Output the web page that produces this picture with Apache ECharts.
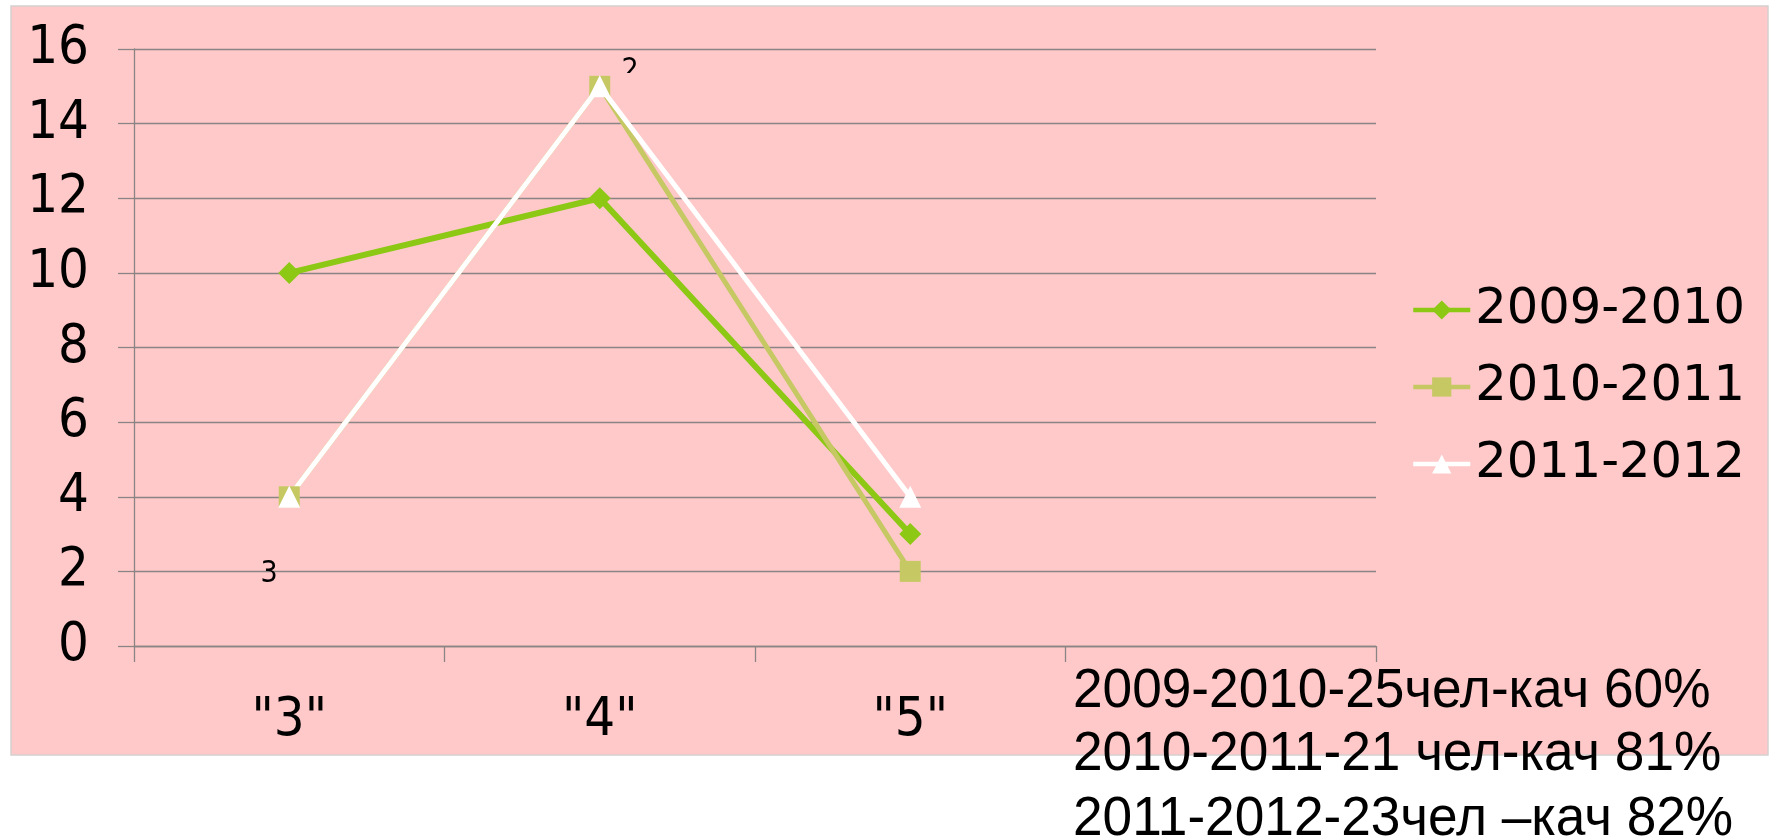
<!DOCTYPE html>
<html>
<head>
<meta charset="utf-8">
<script src="https://cdn.jsdelivr.net/npm/echarts@6/dist/echarts.min.js"></script>
<style>
html,body{margin:0;padding:0;background:#fff;}
#chart{width:1776px;height:839px;}
</style>
</head>
<body>
<div id="chart"></div>
<script>
const categories = ['"3"', '"4"', '"5"', ''];
const seriesNames = ['2009-2010', '2010-2011', '2011-2012'];
const values2009_2010 = [10, 12, 3];
const values2010_2011 = [4, 15, 2];
const values2011_2012 = [4, 15, 4];
const yTicks = { min: 0, max: 16, interval: 2 };
const noteLines = [
  '2009-2010-25чел-кач 60%',
  '2010-2011-21 чел-кач 81%',
  '2011-2012-23чел –кач 82%'
];
const strayLabels = ['3', '2'];

const PINK = '#ffc9c9';
const condensed = '"DejaVu Sans Condensed", "DejaVu Sans", sans-serif';
const noteFont = '56px "Liberation Sans", Arial, sans-serif';

const chart = echarts.init(document.getElementById('chart'), null, {renderer: 'canvas'});

const option = {
  backgroundColor: '#ffffff',
  animation: false,
  grid: { left: 134, right: 400, top: 49, bottom: 193, containLabel: false },
  xAxis: {
    type: 'category',
    data: categories,
    boundaryGap: true,
    axisLine: { show: true, lineStyle: { color: '#8a8484', width: 1.3 } },
    axisTick: { show: true, length: 16, alignWithLabel: false, lineStyle: { color: '#8a8484', width: 1.3 } },
    axisLabel: { fontFamily: condensed, fontSize: 54, color: '#000', margin: 48 },
    splitLine: { show: false }
  },
  yAxis: {
    type: 'value',
    min: yTicks.min, max: yTicks.max, interval: yTicks.interval,
    axisLine: { show: true, lineStyle: { color: '#8a8484', width: 1.3 } },
    axisTick: { show: true, length: 16, lineStyle: { color: '#8a8484', width: 1.3 } },
    axisLabel: { fontFamily: condensed, fontSize: 54, color: '#000', margin: 45 },
    splitLine: { show: true, lineStyle: { color: '#8a8484', width: 1.3 } }
  },
  legend: {
    orient: 'vertical',
    left: 1411,
    top: 285,
    padding: 0,
    itemWidth: 57,
    itemHeight: 24,
    itemGap: 27,
    lineStyle: { width: 4.5 },
    textStyle: { fontFamily: '"DejaVu Sans", sans-serif', fontSize: 49.5, color: '#000', lineHeight: 48 },
    data: seriesNames
  },
  series: [
    {
      name: seriesNames[0], type: 'line', data: values2009_2010,
      symbol: 'diamond', symbolSize: 22,
      lineStyle: { color: '#8cc814', width: 6 },
      itemStyle: { color: '#8cc814' }
    },
    {
      name: seriesNames[1], type: 'line', data: values2010_2011,
      symbol: 'rect', symbolSize: 21,
      lineStyle: { color: '#c6c864', width: 5 },
      itemStyle: { color: '#c6c864' }
    },
    {
      name: seriesNames[2], type: 'line', data: values2011_2012,
      symbol: 'triangle', symbolSize: 22,
      lineStyle: { color: '#ffffff', width: 5 },
      itemStyle: { color: '#ffffff' }
    }
  ],
  graphic: [
    { type: 'rect', z: -100, silent: true,
      shape: { x: 11, y: 6, width: 1757, height: 749 },
      style: { fill: PINK, stroke: '#d6d0d0', lineWidth: 1.5 } },
    { type: 'text', z: 5, x: 269, y: 574,
      style: { text: strayLabels[0], font: '30px ' + condensed, fill: '#000', textAlign: 'center', textVerticalAlign: 'middle' } },
    { type: 'text', z: 5, x: 630, y: 71,
      style: { text: strayLabels[1], font: '30px ' + condensed, fill: '#000', textAlign: 'center', textVerticalAlign: 'middle' } },
    { type: 'rect', z: 6, silent: true,
      shape: { x: 618, y: 73, width: 26, height: 20 },
      style: { fill: PINK } },
    { type: 'text', z: 10, x: 1073, y: 692, scaleX: 0.95,
      style: { text: noteLines[0], font: noteFont, fill: '#000', textAlign: 'left', textVerticalAlign: 'middle' } },
    { type: 'text', z: 10, x: 1073, y: 755, scaleX: 0.95,
      style: { text: noteLines[1], font: noteFont, fill: '#000', textAlign: 'left', textVerticalAlign: 'middle' } },
    { type: 'text', z: 10, x: 1073, y: 820, scaleX: 0.95,
      style: { text: noteLines[2], font: noteFont, fill: '#000', textAlign: 'left', textVerticalAlign: 'middle' } }
  ]
};
chart.setOption(option);
</script>
</body>
</html>
